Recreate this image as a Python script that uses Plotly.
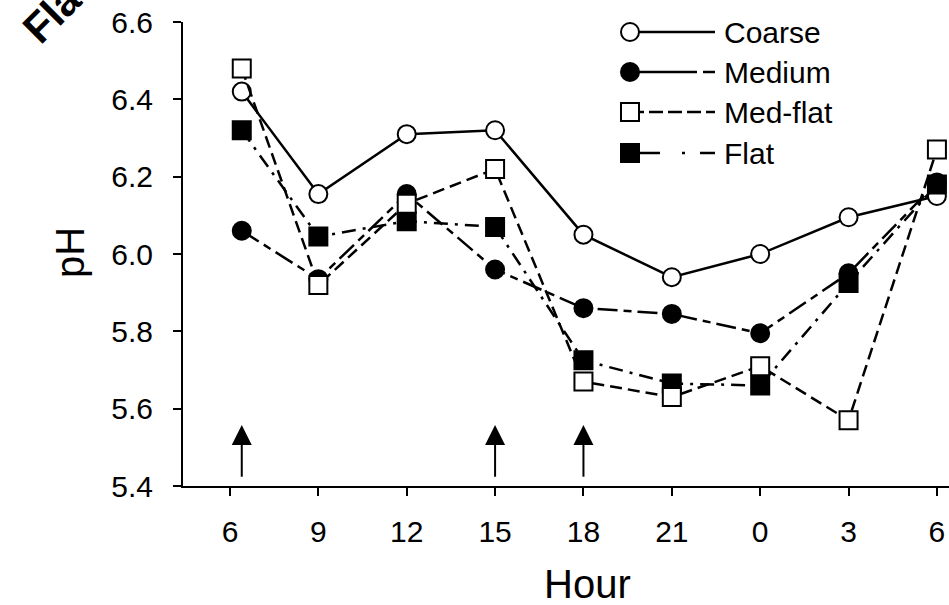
import plotly.graph_objects as go

# ---------------- data ----------------
# elapsed hours since 06:00 (first sample shortly after 6)
hours = [0.4, 3, 6, 9, 12, 15, 18, 21, 24]
tick_vals = [0, 3, 6, 9, 12, 15, 18, 21, 24]
tick_labels = ["6", "9", "12", "15", "18", "21", "0", "3", "6"]

coarse = [6.42, 6.155, 6.31, 6.32, 6.05, 5.94, 6.00, 6.095, 6.15]
medium = [6.06, 5.935, 6.155, 5.96, 5.86, 5.845, 5.795, 5.95, 6.185]
med_flat = [6.48, 5.92, 6.13, 6.22, 5.67, 5.63, 5.71, 5.57, 6.27]
flat = [6.32, 6.045, 6.085, 6.07, 5.725, 5.665, 5.66, 5.925, 6.18]

y_ticks = [5.4, 5.6, 5.8, 6.0, 6.2, 6.4, 6.6]
y_labels = ["5.4", "5.6", "5.8", "6.0", "6.2", "6.4", "6.6"]

arrow_hours = [0.4, 9, 12]
arrow_base = 5.424
arrow_tip = 5.558

series = [
    # name, values, symbol, fill, dash in plot, dash in legend
    ("Coarse", coarse, "circle", "white", "solid", "solid"),
    ("Medium", medium, "circle", "black", "20px,6px,8px,6px", "67px,6px,12px"),
    ("Flat", flat, "square", "black", "14px,7px,3px,7px", "30px,22px,3px,15px,15px"),
    ("Med-flat", med_flat, "square", "white", "12px,6px", "14px,5px"),
]
legend_order = ["Coarse", "Medium", "Med-flat", "Flat"]

FONT = "Liberation Sans, Arial, sans-serif"
W, H = 949, 605
ML, MR, MT, MB = 183, 0, 22, 119

fig = go.Figure()

for name, vals, sym, fill, dash, _ in series:
    fig.add_trace(go.Scatter(
        x=hours, y=vals, mode="lines+markers", name=name,
        line=dict(color="black", width=2.5, dash=dash),
        marker=dict(symbol=sym, size=18, color=fill,
                    line=dict(color="black", width=2)),
        cliponaxis=False, showlegend=False,
    ))

# arrows (shaft + head)
shaft_x, shaft_y = [], []
for h in arrow_hours:
    shaft_x += [h, h, None]
    shaft_y += [arrow_base, arrow_tip - 0.04, None]
fig.add_trace(go.Scatter(x=shaft_x, y=shaft_y, mode="lines",
                         line=dict(color="black", width=2), showlegend=False))
fig.add_trace(go.Scatter(x=arrow_hours, y=[arrow_tip] * len(arrow_hours),
                         mode="markers",
                         marker=dict(symbol="arrow-up", size=20, color="black",
                                     line=dict(width=0)),
                         showlegend=False))

# custom legend drawn on an overlay axis in pixel-like units
leg_x0, leg_x1 = 630, 715
leg_rows = [32, 72, 112, 153]
info = {s[0]: s for s in series}
for name, ry in zip(legend_order, leg_rows):
    _, _, sym, fill, _, ldash = info[name]
    fig.add_trace(go.Scatter(x=[leg_x0, leg_x1], y=[ry, ry], mode="lines",
                             line=dict(color="black", width=2.5, dash=ldash),
                             xaxis="x2", yaxis="y2", showlegend=False))
    fig.add_trace(go.Scatter(x=[leg_x0], y=[ry], mode="markers",
                             marker=dict(symbol=sym, size=18, color=fill,
                                         line=dict(color="black", width=2)),
                             xaxis="x2", yaxis="y2", showlegend=False,
                             cliponaxis=False))
    fig.add_annotation(x=leg_x1 + 7, y=ry, xref="x2", yref="y2", text=name,
                       showarrow=False, xanchor="left", yanchor="middle",
                       font=dict(family=FONT, size=30, color="black"))

pw = W - ML - MR
ph = H - MT - MB

fig.add_annotation(text="Hour", x=(587 - ML) / pw, y=(H - MB - 584) / ph,
                   xref="paper", yref="paper", showarrow=False,
                   xanchor="center", yanchor="middle",
                   font=dict(family=FONT, size=40, color="black"))
fig.add_annotation(text="pH", x=(70 - ML) / pw, y=(H - MB - 253) / ph,
                   xref="paper", yref="paper", showarrow=False, textangle=-90,
                   xanchor="center", yanchor="middle",
                   font=dict(family=FONT, size=40, color="black"))
fig.add_annotation(text="<b>Flat</b>", x=(56 - ML) / pw, y=(H - MB - 9) / ph,
                   xref="paper", yref="paper", showarrow=False, textangle=-45,
                   xanchor="center", yanchor="middle",
                   font=dict(family=FONT, size=42, color="black"))

axis_common = dict(showgrid=False, zeroline=False, showline=True,
                   linecolor="black", linewidth=2, ticks="outside",
                   ticklen=8, tickwidth=2, tickcolor="black",
                   tickfont=dict(family=FONT, size=30, color="black"))

fig.update_layout(
    width=W, height=H,
    margin=dict(l=ML, r=MR, t=MT, b=MB),
    plot_bgcolor="white", paper_bgcolor="white",
    showlegend=False,
    xaxis=dict(range=[-1.595, 24.41], tickvals=tick_vals, ticktext=tick_labels,
               ticklabelstandoff=10, **axis_common),
    yaxis=dict(range=[5.4, 6.6], tickvals=y_ticks, ticktext=y_labels,
               ticklabelstandoff=14, **axis_common),
    xaxis2=dict(overlaying="x", range=[ML, W], visible=False),
    yaxis2=dict(overlaying="y", range=[H - MB, MT], visible=False),
)

fig.write_html(
    "out.html",
    config={"displayModeBar": False},
    post_script="document.body.style.margin='0';document.body.style.overflow='hidden';",
)
